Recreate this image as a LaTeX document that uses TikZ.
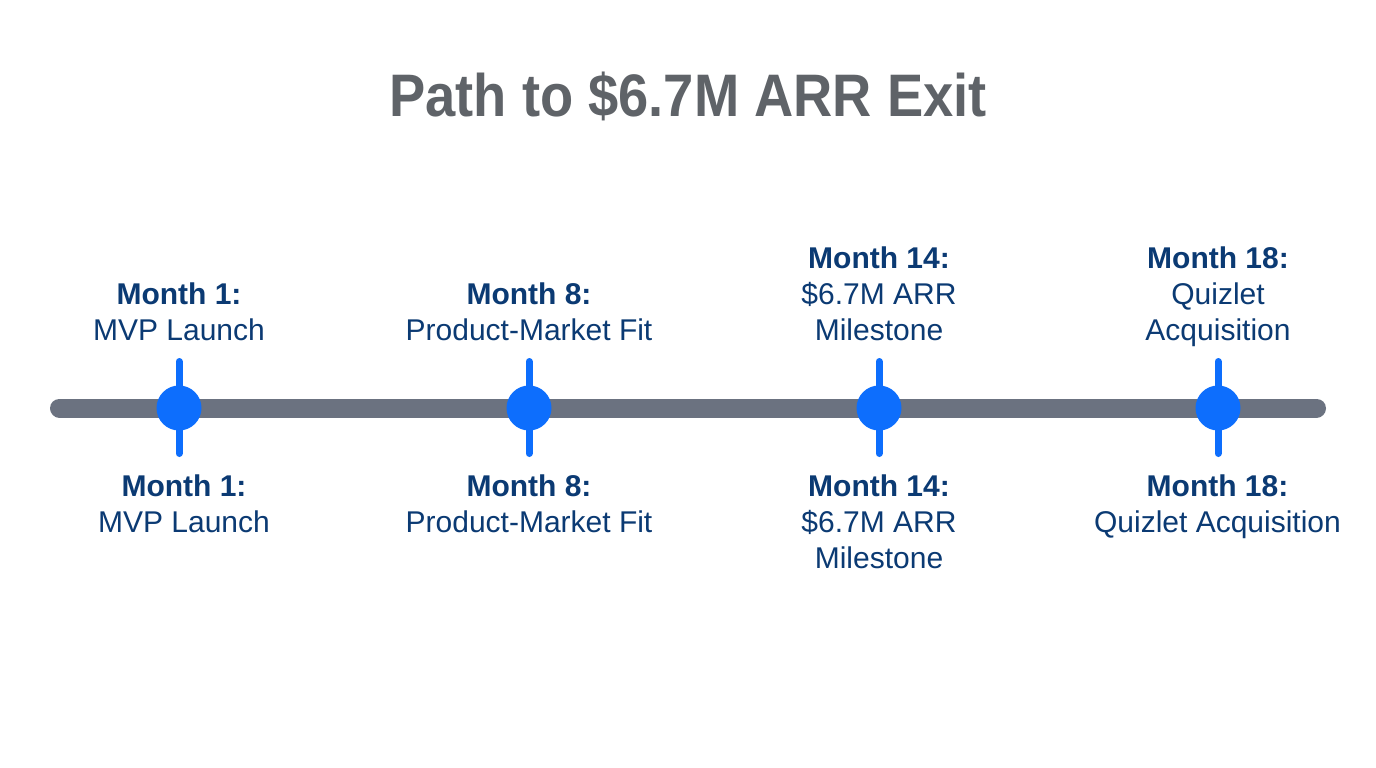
\documentclass[tikz,border=0pt]{standalone}
\usepackage{fontspec}
\setmainfont{Liberation Sans}
\newfontfamily\titlefont[FakeStretch=0.905]{Liberation Sans}
\definecolor{titlegray}{HTML}{5F6368}
\definecolor{bargray}{HTML}{6B7280}
\definecolor{dotblue}{HTML}{0D6EFD}
\definecolor{navy}{HTML}{0B3A73}
\tikzset{
  titletext/.style={font=\titlefont\bfseries\fontsize{60}{72}\selectfont, text=titlegray, inner sep=0pt},
  lbl/.style={font=\fontsize{30}{36}\selectfont, text=navy, align=center, inner sep=0pt},
  toplbl/.style={lbl, anchor=south, text depth=0pt},
  botlbl/.style={lbl, anchor=north},
  bar/.style={draw=bargray, line width=19pt, line cap=round},
  tick/.style={draw=dotblue, line width=7pt, line cap=round},
  dot/.style={circle, fill=dotblue, minimum size=45pt, inner sep=0pt},
}
\begin{document}
\begin{tikzpicture}[x=1pt,y=-1pt]
\useasboundingbox (0,0) rectangle (1376,768);
\fill[white] (0,0) rectangle (1376,768);
\node[titletext, anchor=base] (title) at (688,116) {Path to \$6.7M ARR Exit};

\coordinate (barL) at (59.5,408);
\coordinate (barR) at (1316.5,408);
\draw[bar] (barL) -- (barR);

\foreach \n/\x in {a/179,b/529,c/879,d/1218}{
  \coordinate (\n top) at (\x,361.5);
  \coordinate (\n bot) at (\x,453.5);
  \draw[tick] (\n top) -- (\n bot);
  \node[dot] (\n dot) at (\x,408) {};
}

\node[toplbl] (a1) at (179,341) {\textbf{Month 1:}\\MVP Launch};
\node[toplbl] (b1) at (529,341) {\textbf{Month 8:}\\Product-Market Fit};
\node[toplbl] (c1) at (879,341) {\textbf{Month 14:}\\\$6.7M ARR\\Milestone};
\node[toplbl] (d1) at (1218,341) {\textbf{Month 18:}\\Quizlet\\Acquisition};

\node[botlbl] (a2) at (184,475) {\textbf{Month 1:}\\MVP Launch};
\node[botlbl] (b2) at (529,475) {\textbf{Month 8:}\\Product-Market Fit};
\node[botlbl] (c2) at (879,475) {\textbf{Month 14:}\\\$6.7M ARR\\Milestone};
\node[botlbl] (d2) at (1217.5,475) {\textbf{Month 18:}\\Quizlet Acquisition};
\end{tikzpicture}
\end{document}
